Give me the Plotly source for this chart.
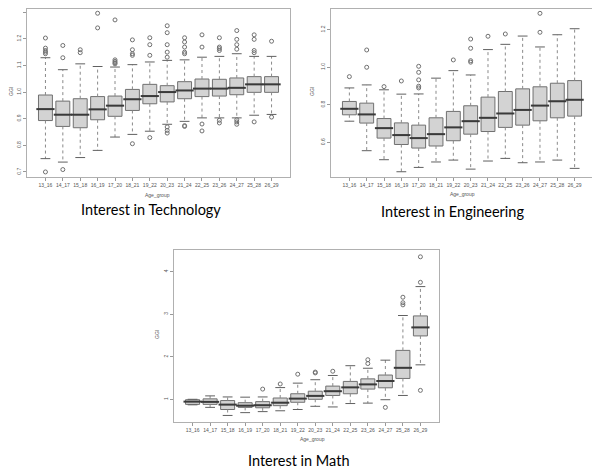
import plotly.graph_objects as go

groups = ["13_16", "14_17", "15_18", "16_19", "17_20", "18_21", "19_22",
          "20_23", "21_24", "22_25", "23_26", "24_27", "25_28", "26_29"]

# ---- Interest in Technology ----
tech_q1 = [0.893, 0.871, 0.866, 0.896, 0.909, 0.931, 0.956, 0.963, 0.975, 0.983, 0.985, 0.990, 0.999, 0.999]
tech_med = [0.936, 0.915, 0.915, 0.935, 0.949, 0.973, 0.985, 1.000, 1.006, 1.013, 1.013, 1.016, 1.029, 1.029]
tech_q3 = [0.989, 0.966, 0.975, 0.983, 0.985, 1.010, 1.029, 1.024, 1.039, 1.049, 1.048, 1.053, 1.058, 1.058]
tech_lo = [0.750, 0.737, 0.754, 0.781, 0.831, 0.841, 0.853, 0.879, 0.890, 0.903, 0.903, 0.903, 0.913, 0.916]
tech_hi = [1.129, 1.084, 1.106, 1.096, 1.094, 1.103, 1.113, 1.119, 1.121, 1.131, 1.134, 1.144, 1.134, 1.134]
tech_out = [[0.700, 1.203, 1.165, 1.156, 1.150, 1.144], [0.709, 1.175, 1.129], [1.159, 1.148],
            [1.296, 1.241], [1.271, 1.121, 1.115, 1.110, 1.106], [1.196, 1.159, 1.144, 1.138, 0.806],
            [1.204, 1.178, 1.138, 0.829], [1.249, 1.223, 1.178, 1.150, 1.131, 0.869, 0.856, 0.846],
            [1.204, 1.188, 1.169, 1.150, 1.144, 0.871, 0.874], [1.215, 1.169, 0.880, 0.854],
            [1.204, 1.169, 1.163, 1.156, 0.894, 0.884], [1.231, 1.198, 1.178, 1.161, 0.896, 0.888, 0.879],
            [1.215, 1.198, 1.156, 1.148, 0.888], [1.191, 0.906]]
tech_ticks = [0.7, 0.8, 0.9, 1.0, 1.1, 1.2, 1.3]
tech_ticktext = ["0.7", "0.8", "0.9", "1.0", "1.1", "1.2", "1.3"]

# ---- Interest in Engineering ----
eng_q1 = [0.747, 0.703, 0.623, 0.589, 0.570, 0.581, 0.609, 0.644, 0.658, 0.680, 0.692, 0.715, 0.731, 0.740]
eng_med = [0.779, 0.749, 0.676, 0.639, 0.623, 0.644, 0.680, 0.713, 0.731, 0.754, 0.773, 0.796, 0.819, 0.827]
eng_q3 = [0.818, 0.809, 0.727, 0.704, 0.692, 0.731, 0.765, 0.795, 0.841, 0.871, 0.885, 0.896, 0.915, 0.929]
eng_lo = [0.713, 0.556, 0.508, 0.444, 0.467, 0.496, 0.506, 0.458, 0.501, 0.515, 0.492, 0.496, 0.506, 0.462]
eng_hi = [0.890, 0.906, 0.880, 0.857, 0.858, 0.942, 0.982, 0.959, 1.094, 1.122, 1.166, 1.108, 1.173, 1.205]
eng_out = [[0.950], [1.000, 1.092], [0.897], [0.927], [1.005, 0.973, 0.933, 0.899, 0.890], [],
           [1.039], [1.150, 1.101, 1.035, 1.027], [1.165], [1.177], [], [1.287, 1.186], [], []]
eng_ticks = [0.6, 0.8, 1.0, 1.2]
eng_ticktext = ["0.6", "0.8", "1.0", "1.2"]

# ---- Interest in Math ----
math_q1 = [0.88, 0.88, 0.76, 0.81, 0.80, 0.85, 0.93, 1.00, 1.09, 1.13, 1.24, 1.27, 1.49, 2.49]
math_med = [0.945, 0.94, 0.875, 0.85, 0.86, 0.92, 1.016, 1.08, 1.19, 1.28, 1.35, 1.43, 1.74, 2.69]
math_q3 = [0.99, 1.01, 0.97, 0.92, 0.945, 1.03, 1.13, 1.19, 1.31, 1.42, 1.48, 1.57, 2.15, 2.96]
math_lo = [0.87, 0.81, 0.62, 0.686, 0.71, 0.73, 0.76, 0.835, 0.82, 0.90, 0.91, 0.99, 1.09, 1.81]
math_hi = [1.0, 1.08, 1.055, 1.05, 1.055, 1.275, 1.38, 1.46, 1.56, 1.79, 1.73, 1.92, 2.97, 3.65]
math_out = [[], [], [], [], [1.24], [1.36], [1.59], [1.64, 1.62], [1.66], [], [1.93, 1.84], [0.81],
            [3.40, 3.27, 3.22], [4.35, 3.75, 1.21]]
math_ticks = [1, 2, 3, 4]
math_ticktext = ["1", "2", "3", "4"]

panel_titles = ["Interest in Technology", "Interest in Engineering", "Interest in Math"]

fig = go.Figure()

BOX_FILL = "#d3d3d3"
BOX_LINE = "#707070"
WHISK = "#8a8a8a"
OUT_COL = "#707070"


def add_panel(n, q1, med, q3, lo, hi, out):
    xa = "x" if n == 1 else f"x{n}"
    ya = "y" if n == 1 else f"y{n}"
    xs = list(range(len(groups)))
    # dashed whiskers
    wx, wy = [], []
    for i in xs:
        wx += [i, i, None, i, i, None]
        wy += [q3[i], hi[i], None, q1[i], lo[i], None]
    fig.add_trace(go.Scatter(x=wx, y=wy, mode="lines", xaxis=xa, yaxis=ya,
                             line=dict(color=WHISK, width=1, dash="dot"),
                             showlegend=False, hoverinfo="skip"))
    # boxes
    fig.add_trace(go.Box(x=xs, q1=q1, median=med, q3=q3, lowerfence=q1, upperfence=q3,
                         width=0.8, whiskerwidth=0, fillcolor=BOX_FILL,
                         line=dict(color=BOX_LINE, width=1), boxpoints=False,
                         xaxis=xa, yaxis=ya, showlegend=False))
    # medians
    fig.add_trace(go.Scatter(x=xs, y=med, mode="markers", xaxis=xa, yaxis=ya,
                             marker=dict(symbol="line-ew", size=13, color="#3a3a3a",
                                         line=dict(color="#3a3a3a", width=2)),
                             showlegend=False, hoverinfo="skip"))
    # staples
    fig.add_trace(go.Scatter(x=xs + xs, y=hi + lo, mode="markers", xaxis=xa, yaxis=ya,
                             marker=dict(symbol="line-ew", size=7, color="#606060",
                                         line=dict(color="#606060", width=1)),
                             showlegend=False, hoverinfo="skip"))
    # outliers
    ox, oy = [], []
    for i in xs:
        for v in out[i]:
            ox.append(i)
            oy.append(v)
    fig.add_trace(go.Scatter(x=ox, y=oy, mode="markers", xaxis=xa, yaxis=ya,
                             marker=dict(symbol="circle-open", size=4, color=OUT_COL,
                                         line=dict(color=OUT_COL, width=1)),
                             showlegend=False, hoverinfo="skip"))


add_panel(1, tech_q1, tech_med, tech_q3, tech_lo, tech_hi, tech_out)
add_panel(2, eng_q1, eng_med, eng_q3, eng_lo, eng_hi, eng_out)
add_panel(3, math_q1, math_med, math_q3, math_lo, math_hi, math_out)

OFF = 8  # page body margin
W, H = 600 - OFF, 470 - OFF


def px(x):
    return min(max((x - OFF) / W, 0.0), 1.0)


def py(y):
    return min(max(1 - (y - OFF) / H, 0.0), 1.0)


def xdom(a, b):
    return [px(a), px(b)]


def ydom(top, bot):
    return [py(bot), py(top)]


tickfont = dict(size=5, color="#555555", family="Liberation Sans")
common_x = dict(range=[-1.06, 14.06], tickmode="array", tickvals=list(range(len(groups))),
                ticktext=groups, tickfont=tickfont, ticks="outside", ticklen=3,
                tickcolor="#999999", showline=True, mirror=True, linecolor="#b0b0b0",
                linewidth=1, showgrid=False, zeroline=False, tickangle=0)
common_y = dict(tickmode="array", tickfont=tickfont, ticks="outside", ticklen=3,
                tickcolor="#999999", showline=True, mirror=True, linecolor="#b0b0b0",
                linewidth=1, showgrid=False, zeroline=False, tickangle=-90)

fig.update_layout(
    width=W, height=H, autosize=False,
    margin=dict(l=0, r=0, t=0, b=0),
    paper_bgcolor="white", plot_bgcolor="white",
    showlegend=False,
    xaxis=dict(domain=xdom(27, 290), anchor="y", **common_x),
    yaxis=dict(domain=ydom(9, 177), anchor="x", range=[0.681, 1.312],
               tickvals=tech_ticks, ticktext=tech_ticktext, **common_y),
    xaxis2=dict(domain=xdom(331, 593), anchor="y2", **common_x),
    yaxis2=dict(domain=ydom(9, 177), anchor="x2", range=[0.416, 1.31],
                tickvals=eng_ticks, ticktext=eng_ticktext, **common_y),
    xaxis3=dict(domain=xdom(174, 439), anchor="y3", **common_x),
    yaxis3=dict(domain=ydom(250, 422), anchor="x3", range=[0.466, 4.51],
                tickvals=math_ticks, ticktext=math_ticktext, **common_y),
)

small = dict(size=5, color="#555555", family="Liberation Sans")
title_font = dict(size=14.5, color="black", family="Lato")

annots = [
    dict(text=panel_titles[0], x=151, y=209),
    dict(text=panel_titles[1], x=452, y=212),
    dict(text=panel_titles[2], x=299, y=460),
]
for a in annots:
    fig.add_annotation(xref="paper", yref="paper", x=px(a["x"]), y=py(a["y"]), text=a["text"],
                       showarrow=False, xanchor="center", yanchor="middle", font=title_font)

for (x, y) in [(157, 195), (462, 194), (312, 439)]:
    fig.add_annotation(xref="paper", yref="paper", x=px(x), y=py(y), text="Age_group",
                       showarrow=False, xanchor="center", yanchor="middle", font=small)
for (x, y) in [(11, 92), (312, 92), (157, 335)]:
    fig.add_annotation(xref="paper", yref="paper", x=px(x), y=py(y), text="GGI",
                       showarrow=False, xanchor="center", yanchor="middle", font=small,
                       textangle=-90)

fig.write_html("out.html")
